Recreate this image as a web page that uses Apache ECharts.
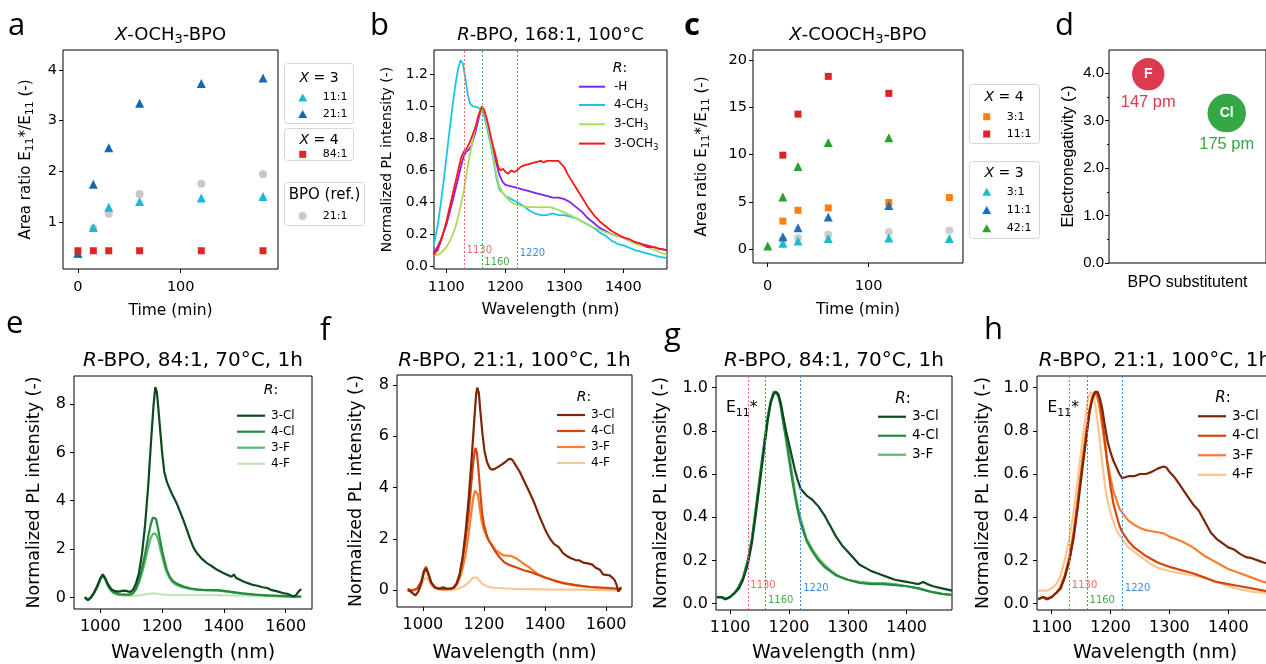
<!DOCTYPE html>
<html><head><meta charset="utf-8">
<script src="https://cdn.jsdelivr.net/npm/echarts@6/dist/echarts.min.js"></script>
<style>html,body{margin:0;padding:0;background:#fff}#c{width:1266px;height:664px}</style>
</head><body><div id="c"></div>
<script>
// ---------------- DATA ----------------
// panel a : X-OCH3-BPO, area ratio vs time
const aTime  = [0, 15, 30, 60, 120, 180];
const aX3r11 = [0.38, 0.89, 1.29, 1.40, 1.47, 1.50];
const aX3r21 = [0.38, 1.74, 2.46, 3.34, 3.73, 3.84];
const aX4r84 = [0.43, 0.43, 0.43, 0.43, 0.43, 0.43];
const aRef21 = [null, 0.87, 1.16, 1.55, 1.75, 1.94];
// panel c : X-COOCH3-BPO
const cTime  = [0, 15, 30, 60, 120, 180];
const cX4r3  = [null, 2.95, 4.1, 4.35, 4.92, 5.45];
const cX4r11 = [null, 9.95, 14.3, 18.3, 16.5, null];
const cX3r3  = [null, 0.6, 0.85, 1.1, 1.15, 1.1];
const cX3r11 = [null, 1.3, 2.25, 3.4, 4.6, null];
const cX3r42 = [0.3, 5.5, 8.75, 11.3, 11.8, null];
const cRef   = [null, 1.0, 1.15, 1.5, 1.8, 1.95];
// panel d : substituent electronegativity / radius
const dSub = ['F', 'Cl'];
const dEN  = [3.98, 3.16];
const dRad = [147, 175];
const dPos = [1, 3];
// vertical reference lines (nm)
const vlineNm = [1130, 1160, 1220];
// panel b : R-BPO 168:1 100C
const bH = [[1078,0.08],[1085,0.12],[1090,0.16],[1100,0.26],[1110,0.4],[1120,0.55],[1127,0.66],[1132,0.71],[1138,0.73],[1143,0.76],[1150,0.85],[1155,0.93],[1160,0.99],[1163,0.97],[1168,0.9],[1175,0.8],[1180,0.72],[1185,0.64],[1190,0.57],[1195,0.53],[1200,0.51],[1210,0.5],[1220,0.49],[1230,0.48],[1240,0.47],[1250,0.46],[1260,0.45],[1270,0.44],[1280,0.43],[1290,0.43],[1300,0.42],[1310,0.4],[1320,0.37],[1330,0.34],[1340,0.3],[1350,0.27],[1360,0.24],[1370,0.22],[1380,0.2],[1390,0.19],[1400,0.18],[1410,0.16],[1420,0.15],[1430,0.14],[1440,0.13],[1450,0.12],[1460,0.11],[1474,0.1]];
const b4CH3 = [[1078,0.12],[1085,0.25],[1090,0.38],[1095,0.52],[1100,0.68],[1105,0.84],[1110,0.99],[1115,1.13],[1120,1.24],[1124,1.29],[1128,1.27],[1132,1.18],[1136,1.08],[1140,1.02],[1145,1.0],[1150,1.0],[1155,0.99],[1160,0.98],[1165,0.93],[1170,0.85],[1175,0.76],[1180,0.66],[1185,0.55],[1190,0.48],[1195,0.46],[1200,0.44],[1210,0.42],[1220,0.4],[1230,0.38],[1240,0.35],[1250,0.33],[1260,0.32],[1270,0.32],[1280,0.33],[1290,0.32],[1300,0.32],[1310,0.31],[1320,0.3],[1330,0.28],[1340,0.26],[1350,0.24],[1360,0.21],[1370,0.19],[1380,0.16],[1390,0.14],[1400,0.13],[1420,0.1],[1440,0.08],[1460,0.06],[1474,0.05]];
const b3CH3 = [[1078,0.07],[1085,0.07],[1090,0.08],[1095,0.1],[1100,0.12],[1105,0.15],[1110,0.19],[1115,0.24],[1120,0.31],[1125,0.39],[1130,0.48],[1135,0.6],[1140,0.7],[1145,0.8],[1150,0.88],[1155,0.95],[1160,0.99],[1164,0.97],[1168,0.91],[1172,0.84],[1176,0.76],[1180,0.67],[1185,0.57],[1190,0.5],[1195,0.46],[1200,0.44],[1207,0.41],[1215,0.39],[1225,0.38],[1240,0.37],[1260,0.37],[1275,0.37],[1285,0.36],[1297,0.34],[1310,0.32],[1320,0.3],[1331,0.28],[1345,0.25],[1365,0.22],[1380,0.2],[1400,0.18],[1420,0.14],[1440,0.12],[1460,0.09],[1474,0.07]];
const b3OCH3 = [[1078,0.07],[1085,0.1],[1090,0.15],[1095,0.21],[1100,0.28],[1105,0.36],[1110,0.44],[1115,0.52],[1120,0.6],[1125,0.68],[1130,0.72],[1135,0.74],[1140,0.78],[1145,0.83],[1150,0.88],[1155,0.95],[1160,1.0],[1164,0.98],[1168,0.93],[1172,0.87],[1176,0.8],[1180,0.74],[1185,0.67],[1188,0.62],[1192,0.6],[1196,0.61],[1200,0.59],[1205,0.58],[1210,0.6],[1215,0.59],[1220,0.6],[1225,0.62],[1230,0.63],[1240,0.64],[1250,0.65],[1260,0.66],[1265,0.65],[1270,0.66],[1280,0.66],[1290,0.66],[1295,0.64],[1300,0.62],[1305,0.58],[1310,0.55],[1315,0.52],[1320,0.49],[1325,0.46],[1330,0.43],[1340,0.37],[1350,0.32],[1360,0.28],[1370,0.25],[1380,0.22],[1390,0.2],[1400,0.18],[1410,0.17],[1420,0.15],[1430,0.14],[1440,0.12],[1450,0.12],[1460,0.11],[1474,0.1]];
// panel e : R-BPO 84:1 70C 1h
const e3Cl = [[950,0.0],[960,-0.12],[970,0.0],[980,0.2],[990,0.45],[1000,0.78],[1008,0.95],[1015,0.82],[1025,0.55],[1035,0.35],[1045,0.27],[1060,0.24],[1075,0.28],[1085,0.27],[1095,0.22],[1105,0.3],[1115,0.55],[1125,1.0],[1135,1.8],[1145,3.0],[1155,4.6],[1165,6.6],[1172,7.9],[1178,8.7],[1183,8.5],[1188,7.8],[1194,6.9],[1200,6.0],[1207,5.2],[1215,4.8],[1226,4.45],[1237,4.15],[1247,3.9],[1258,3.55],[1269,3.2],[1280,2.8],[1291,2.4],[1302,2.05],[1313,1.83],[1330,1.58],[1345,1.42],[1360,1.3],[1378,1.14],[1395,1.03],[1410,0.94],[1425,0.85],[1432,0.95],[1440,0.8],[1460,0.68],[1475,0.6],[1490,0.53],[1508,0.48],[1525,0.42],[1540,0.39],[1555,0.3],[1573,0.25],[1590,0.18],[1605,0.15],[1618,0.08],[1627,0.04],[1635,0.12],[1642,0.25],[1650,0.35]];
const e4Cl = [[950,0.0],[960,-0.1],[970,0.0],[980,0.2],[990,0.45],[1000,0.78],[1008,0.93],[1015,0.8],[1025,0.5],[1035,0.3],[1045,0.2],[1060,0.13],[1080,0.12],[1095,0.12],[1105,0.18],[1115,0.35],[1125,0.7],[1135,1.2],[1145,1.8],[1155,2.5],[1163,3.0],[1170,3.3],[1175,3.35],[1180,3.25],[1187,2.85],[1194,2.35],[1200,1.95],[1208,1.5],[1215,1.15],[1225,0.85],[1235,0.68],[1250,0.55],[1270,0.45],[1290,0.38],[1310,0.33],[1340,0.3],[1360,0.3],[1380,0.3],[1400,0.27],[1430,0.22],[1460,0.17],[1500,0.12],[1540,0.08],[1580,0.06],[1620,0.04],[1650,0.03]];
const e3F = [[950,0.0],[960,-0.08],[970,0.0],[980,0.18],[990,0.42],[1000,0.75],[1008,0.9],[1015,0.78],[1025,0.48],[1035,0.28],[1045,0.18],[1060,0.12],[1080,0.1],[1095,0.1],[1105,0.15],[1115,0.3],[1125,0.6],[1135,1.0],[1145,1.5],[1155,2.05],[1163,2.45],[1170,2.62],[1177,2.65],[1183,2.55],[1190,2.25],[1197,1.85],[1205,1.45],[1213,1.1],[1222,0.85],[1232,0.65],[1245,0.52],[1265,0.42],[1290,0.35],[1320,0.31],[1350,0.3],[1380,0.28],[1410,0.24],[1440,0.19],[1480,0.13],[1520,0.09],[1560,0.06],[1600,0.04],[1650,0.02]];
const e4F = [[950,0.0],[960,-0.08],[970,0.0],[980,0.18],[990,0.42],[1000,0.75],[1008,0.88],[1015,0.75],[1025,0.45],[1035,0.25],[1050,0.12],[1070,0.07],[1100,0.06],[1130,0.09],[1150,0.13],[1165,0.16],[1175,0.17],[1185,0.15],[1200,0.12],[1230,0.1],[1280,0.09],[1350,0.09],[1420,0.08],[1500,0.06],[1580,0.04],[1650,0.03]];
// panel f : R-BPO 21:1 100C 1h
const f3Cl = [[950,0.0],[960,-0.05],[975,-0.2],[985,-0.05],[995,0.3],[1003,0.7],[1010,0.85],[1017,0.65],[1027,0.3],[1040,0.1],[1055,0.05],[1065,0.12],[1075,0.08],[1090,0.05],[1100,0.1],[1110,0.25],[1120,0.6],[1130,1.3],[1140,2.3],[1150,3.6],[1160,5.2],[1168,6.6],[1174,7.6],[1178,7.9],[1183,7.7],[1188,7.0],[1195,6.1],[1202,5.4],[1210,5.0],[1218,4.78],[1225,4.7],[1233,4.72],[1245,4.8],[1258,4.9],[1270,5.0],[1280,5.1],[1288,5.12],[1295,5.05],[1305,4.85],[1318,4.6],[1330,4.3],[1342,4.0],[1352,3.75],[1365,3.4],[1378,3.0],[1390,2.65],[1405,2.25],[1418,1.98],[1430,1.8],[1445,1.68],[1459,1.45],[1470,1.35],[1485,1.25],[1500,1.18],[1512,1.17],[1525,1.08],[1540,1.05],[1555,1.0],[1566,0.88],[1580,0.8],[1590,0.62],[1600,0.6],[1612,0.58],[1620,0.5],[1628,0.4],[1635,0.2],[1640,-0.05],[1645,0.05],[1650,0.12]];
const f4Cl = [[950,0.05],[965,0.0],[980,0.05],[995,0.35],[1003,0.75],[1010,0.92],[1017,0.7],[1027,0.3],[1040,0.12],[1060,0.05],[1080,0.05],[1100,0.1],[1110,0.25],[1120,0.6],[1130,1.2],[1140,2.0],[1150,3.0],[1158,4.1],[1165,5.0],[1170,5.45],[1173,5.55],[1177,5.35],[1182,4.7],[1188,3.8],[1194,3.0],[1200,2.55],[1208,2.2],[1215,1.95],[1223,1.8],[1235,1.55],[1250,1.3],[1266,1.1],[1280,1.0],[1300,0.92],[1315,0.85],[1330,0.78],[1350,0.72],[1373,0.62],[1400,0.5],[1430,0.38],[1460,0.28],[1500,0.2],[1550,0.13],[1600,0.1],[1640,0.06],[1650,0.05]];
const f3F = [[950,0.02],[965,0.0],[980,0.05],[995,0.33],[1003,0.72],[1010,0.88],[1017,0.68],[1027,0.3],[1040,0.1],[1060,0.05],[1080,0.05],[1100,0.08],[1110,0.2],[1120,0.45],[1130,0.85],[1140,1.4],[1150,2.2],[1158,3.0],[1165,3.6],[1170,3.88],[1175,3.95],[1180,3.75],[1186,3.2],[1192,2.7],[1200,2.35],[1210,2.05],[1223,1.82],[1240,1.55],[1255,1.42],[1266,1.36],[1276,1.35],[1290,1.33],[1305,1.25],[1320,1.13],[1335,1.0],[1350,0.88],[1373,0.66],[1400,0.5],[1430,0.38],[1460,0.28],[1500,0.19],[1550,0.12],[1600,0.08],[1650,0.05]];
const f4F = [[950,0.02],[970,0.0],[990,0.1],[1003,0.4],[1010,0.5],[1017,0.4],[1030,0.15],[1050,0.05],[1080,0.02],[1100,0.03],[1120,0.08],[1140,0.2],[1155,0.38],[1165,0.5],[1170,0.53],[1177,0.5],[1185,0.38],[1195,0.25],[1210,0.15],[1230,0.1],[1260,0.08],[1300,0.06],[1400,0.04],[1500,0.03],[1600,0.01],[1650,0.0]];
// panel g : R-BPO 84:1 70C 1h (normalized)
const g3Cl = [[1077,0.03],[1085,0.03],[1092,0.02],[1100,0.03],[1108,0.05],[1115,0.07],[1122,0.11],[1130,0.18],[1137,0.28],[1144,0.42],[1151,0.57],[1158,0.72],[1164,0.85],[1169,0.93],[1174,0.97],[1178,0.98],[1182,0.97],[1186,0.93],[1190,0.87],[1195,0.8],[1200,0.74],[1205,0.68],[1210,0.62],[1215,0.57],[1220,0.53],[1230,0.5],[1240,0.48],[1250,0.45],[1260,0.41],[1270,0.36],[1280,0.31],[1290,0.27],[1300,0.24],[1310,0.21],[1320,0.18],[1330,0.165],[1340,0.15],[1350,0.14],[1360,0.13],[1370,0.12],[1380,0.11],[1390,0.105],[1400,0.1],[1410,0.095],[1420,0.09],[1428,0.1],[1435,0.09],[1445,0.08],[1460,0.07],[1477,0.06]];
const g4Cl = [[1077,0.03],[1085,0.03],[1092,0.02],[1100,0.03],[1108,0.05],[1115,0.08],[1122,0.12],[1130,0.2],[1137,0.3],[1144,0.45],[1151,0.6],[1158,0.75],[1164,0.87],[1169,0.94],[1174,0.98],[1178,0.98],[1182,0.96],[1186,0.91],[1190,0.84],[1195,0.76],[1200,0.67],[1205,0.58],[1210,0.5],[1215,0.43],[1220,0.37],[1230,0.29],[1240,0.24],[1250,0.2],[1260,0.17],[1270,0.15],[1280,0.13],[1290,0.12],[1300,0.11],[1320,0.095],[1340,0.09],[1360,0.09],[1380,0.085],[1400,0.08],[1420,0.07],[1440,0.055],[1460,0.045],[1477,0.04]];
const g3F = [[1077,0.03],[1085,0.03],[1092,0.025],[1100,0.03],[1108,0.05],[1115,0.08],[1122,0.12],[1130,0.2],[1137,0.3],[1144,0.44],[1151,0.59],[1158,0.74],[1164,0.86],[1169,0.93],[1174,0.97],[1178,0.98],[1182,0.96],[1186,0.92],[1190,0.86],[1195,0.78],[1200,0.7],[1205,0.61],[1210,0.52],[1215,0.45],[1220,0.39],[1230,0.3],[1240,0.25],[1250,0.21],[1260,0.18],[1270,0.155],[1280,0.135],[1290,0.12],[1300,0.11],[1320,0.1],[1340,0.095],[1360,0.095],[1380,0.09],[1400,0.08],[1420,0.07],[1440,0.055],[1460,0.045],[1477,0.04]];
// panel h : R-BPO 21:1 100C 1h (normalized)
const h3Cl = [[1077,0.02],[1085,0.03],[1092,0.02],[1100,0.03],[1108,0.05],[1115,0.07],[1122,0.12],[1130,0.2],[1137,0.3],[1144,0.44],[1151,0.6],[1158,0.75],[1164,0.88],[1169,0.95],[1174,0.98],[1178,0.98],[1182,0.95],[1186,0.9],[1190,0.83],[1195,0.75],[1200,0.7],[1205,0.66],[1210,0.63],[1215,0.6],[1220,0.58],[1225,0.585],[1230,0.59],[1240,0.59],[1250,0.6],[1260,0.6],[1270,0.61],[1280,0.625],[1290,0.635],[1295,0.63],[1300,0.61],[1310,0.58],[1320,0.54],[1330,0.5],[1340,0.46],[1350,0.43],[1360,0.38],[1370,0.33],[1380,0.3],[1390,0.28],[1400,0.26],[1410,0.25],[1420,0.23],[1430,0.215],[1440,0.21],[1450,0.2],[1460,0.19],[1477,0.18]];
const h4Cl = [[1077,0.02],[1085,0.03],[1092,0.02],[1100,0.03],[1108,0.05],[1115,0.07],[1122,0.12],[1130,0.2],[1137,0.31],[1144,0.46],[1151,0.62],[1158,0.77],[1164,0.89],[1169,0.95],[1174,0.98],[1178,0.97],[1182,0.93],[1186,0.85],[1190,0.76],[1195,0.64],[1200,0.54],[1205,0.46],[1210,0.41],[1215,0.36],[1220,0.33],[1230,0.29],[1240,0.26],[1250,0.24],[1260,0.22],[1270,0.205],[1280,0.19],[1290,0.18],[1300,0.17],[1320,0.155],[1340,0.14],[1360,0.12],[1380,0.1],[1400,0.09],[1420,0.08],[1440,0.07],[1460,0.06],[1477,0.055]];
const h3F = [[1077,0.02],[1085,0.03],[1092,0.025],[1100,0.03],[1108,0.05],[1115,0.08],[1122,0.13],[1130,0.22],[1137,0.33],[1144,0.48],[1151,0.64],[1158,0.79],[1164,0.9],[1169,0.96],[1173,0.98],[1177,0.96],[1181,0.91],[1186,0.82],[1190,0.74],[1195,0.65],[1200,0.58],[1205,0.52],[1210,0.48],[1215,0.44],[1220,0.42],[1230,0.385],[1240,0.365],[1250,0.35],[1260,0.34],[1270,0.335],[1280,0.33],[1290,0.325],[1300,0.31],[1320,0.29],[1340,0.26],[1360,0.22],[1380,0.19],[1400,0.16],[1420,0.14],[1440,0.12],[1460,0.1],[1477,0.09]];
const h4F = [[1077,0.06],[1085,0.06],[1092,0.06],[1100,0.07],[1108,0.09],[1115,0.13],[1122,0.2],[1130,0.3],[1137,0.42],[1144,0.57],[1151,0.73],[1157,0.86],[1162,0.95],[1166,0.98],[1170,0.97],[1174,0.92],[1178,0.84],[1183,0.72],[1188,0.6],[1193,0.5],[1200,0.42],[1207,0.36],[1214,0.32],[1220,0.3],[1230,0.26],[1240,0.24],[1250,0.22],[1260,0.2],[1270,0.18],[1280,0.165],[1300,0.15],[1320,0.14],[1340,0.13],[1360,0.12],[1380,0.1],[1400,0.08],[1420,0.065],[1440,0.055],[1460,0.05],[1477,0.045]];
// tick labels
const ticksTime = [0, 100];
const ticksA = [1, 2, 3, 4];
const ticksC = [0, 5, 10, 15, 20];
const ticksD = [0, 1, 2, 3, 4];
const ticksDminor = [0.5, 1.5, 2.5, 3.5];
const ticksNorm = [0, 0.2, 0.4, 0.6, 0.8, 1.0];
const ticksNormB = [0, 0.2, 0.4, 0.6, 0.8, 1.0, 1.2];
const ticksWlShort = [1100, 1200, 1300, 1400];
const ticksWlLong = [1000, 1200, 1400, 1600];
const ticksEF = [0, 2, 4, 6, 8];

// ---------------- STYLE / LAYOUT ----------------
const FONT = 'DejaVu Sans', ARIAL = 'Liberation Sans', LETTER = 'Open Sans';
function rich(fs, color, ff) {
  color = color || '#000'; ff = ff || FONT;
  return {
    n: {fontSize: fs, fontFamily: ff, color: color, lineHeight: Math.round(fs * 1.3)},
    i: {fontSize: fs, fontFamily: ff, color: color, fontStyle: 'italic', lineHeight: Math.round(fs * 1.3)},
    b: {fontSize: fs, fontFamily: ff, color: color, fontWeight: 'bold', lineHeight: Math.round(fs * 1.3)},
    s: {fontSize: Math.round(fs * 0.7), fontFamily: ff, color: color, lineHeight: Math.round(fs * 0.7), verticalAlign: 'bottom'}
  };
}
const gridDefs = [
  {left: 63, top: 50, width: 215, height: 219},
  {left: 434, top: 50, width: 233, height: 219},
  {left: 753, top: 50, width: 210, height: 213},
  {left: 1109, top: 50, width: 157, height: 213},
  {left: 74, top: 376, width: 238, height: 233},
  {left: 397, top: 375, width: 235, height: 232},
  {left: 716, top: 376, width: 236, height: 234},
  {left: 1037, top: 376, width: 236, height: 234}
];
const grid = gridDefs.map(g => Object.assign({show: true, borderColor: '#000', borderWidth: 1,
  backgroundColor: 'rgba(0,0,0,0)', containLabel: false, outerBoundsMode: 'none'}, g));

function xAx(gi, min, max, ticks, o) {
  const has = ticks && ticks.length > 0;
  return {
    type: 'value', gridIndex: gi, min: min, max: max, position: 'bottom',
    axisLine: {show: false, onZero: false}, splitLine: {show: false},
    axisTick: has ? {show: true, length: 4, customValues: ticks, lineStyle: {color: '#000', width: 1}} : {show: false},
    axisLabel: has ? {show: true, customValues: ticks, color: '#000', fontFamily: o.ff || FONT, fontSize: o.fs,
      margin: o.margin, formatter: o.fmt || (v => String(v))} : {show: false},
    name: o.name, nameLocation: 'middle', nameGap: o.gap,
    nameTextStyle: {color: '#000', fontFamily: o.ff || FONT, fontSize: o.nfs, rich: o.rich}
  };
}
function yAx(gi, min, max, ticks, o) {
  return {
    type: 'value', gridIndex: gi, min: min, max: max, position: 'left',
    axisLine: {show: false, onZero: false}, splitLine: {show: false},
    axisTick: {show: true, length: o.tl || 4, customValues: ticks, lineStyle: {color: '#000', width: 1}},
    axisLabel: {show: !o.noLabel, customValues: ticks, color: '#000', fontFamily: o.ff || FONT, fontSize: o.fs,
      margin: o.margin, formatter: o.fmt || (v => String(v))},
    name: o.name || '', nameLocation: 'middle', nameGap: o.gap, nameRotate: 90,
    nameTextStyle: {color: '#000', fontFamily: o.ff || FONT, fontSize: o.nfs, rich: o.rich}
  };
}
const f1 = v => v.toFixed(1);
const areaName = '{n|Area ratio E}{s|11}{n|*/E}{s|11}{n| (-)}';

const xAxis = [
  xAx(0, -14.5, 194.6, ticksTime, {fs: 14.5, margin: 11, name: 'Time (min)', gap: 34, nfs: 15.5}),
  xAx(1, 1079, 1474, ticksWlShort, {fs: 14.5, margin: 11, name: 'Wavelength (nm)', gap: 33, nfs: 16}),
  xAx(2, -14.6, 193.5, ticksTime, {fs: 14.5, margin: 16, name: 'Time (min)', gap: 39, nfs: 15.5}),
  xAx(3, 0, 4, [], {name: 'BPO substitutent', gap: 12, nfs: 16, ff: ARIAL}),
  xAx(4, 915, 1685, ticksWlLong, {fs: 16, margin: 10, name: 'Wavelength (nm)', gap: 35, nfs: 19}),
  xAx(5, 915, 1685, ticksWlLong, {fs: 16, margin: 10, name: 'Wavelength (nm)', gap: 37, nfs: 19}),
  xAx(6, 1076, 1477, ticksWlShort, {fs: 16, margin: 10, name: 'Wavelength (nm)', gap: 34, nfs: 19}),
  xAx(7, 1075, 1476, ticksWlShort, {fs: 16, margin: 10, name: 'Wavelength (nm)', gap: 34, nfs: 19})
];
const yAxis = [
  yAx(0, 0.07, 4.39, ticksA, {fs: 14.5, margin: 6, name: areaName, gap: 27, nfs: 15, rich: rich(15)}),
  yAx(1, -0.018, 1.355, ticksNormB, {fs: 14, margin: 6, fmt: f1, name: 'Normalized PL intensity (-)', gap: 40, nfs: 14}),
  yAx(2, -1.49, 21.1, ticksC, {fs: 14.5, margin: 6, name: areaName, gap: 41, nfs: 15, rich: rich(15)}),
  yAx(3, 0, 4.49, ticksD, {fs: 15, margin: 5, fmt: f1, ff: ARIAL, name: 'Electronegativity (-)', gap: 32, nfs: 16.5}),
  yAx(4, -0.48, 9.16, ticksEF, {fs: 16, margin: 8, name: 'Normalized PL intensity (-)', gap: 31, nfs: 17.5}),
  yAx(5, -0.65, 8.39, ticksEF, {fs: 16, margin: 8, name: 'Normalized PL intensity (-)', gap: 32, nfs: 17.5}),
  yAx(6, -0.03, 1.054, ticksNorm, {fs: 16, margin: 8, fmt: f1, name: 'Normalized PL intensity (-)', gap: 46, nfs: 17.5}),
  yAx(7, -0.03, 1.054, ticksNorm, {fs: 16, margin: 8, fmt: f1, name: 'Normalized PL intensity (-)', gap: 45, nfs: 17.5}),
  yAx(3, 0, 4.49, ticksDminor, {noLabel: true, tl: 2})
];

const LABEL = {};
const series = [];
function pairs(xs, ys) { const o = []; xs.forEach((x, i) => { if (ys[i] != null) o.push([x, ys[i]]); }); return o; }
function scat(gi, key, label, xs, ys, sym, size, color) {
  LABEL[key] = label;
  series.push({type: 'scatter', name: key, xAxisIndex: gi, yAxisIndex: gi, data: pairs(xs, ys),
    symbol: sym, symbolSize: size, itemStyle: {color: color, opacity: 1}, z: 3, animation: false});
}
function line(gi, key, label, data, color, width) {
  LABEL[key] = label;
  series.push({type: 'line', name: key, xAxisIndex: gi, yAxisIndex: gi, data: data, showSymbol: false,
    symbol: 'none', lineStyle: {color: color, width: width}, itemStyle: {color: color}, z: 3,
    animation: false, clip: true});
}
const VCOL = ['#f06a6a', '#45aa45', '#3c8fd8'];
function vlines(gi, ys, fs) {
  series.push({type: 'scatter', xAxisIndex: gi, yAxisIndex: gi, symbolSize: 1, silent: true, z: 2,
    itemStyle: {color: 'rgba(0,0,0,0)', opacity: 1}, animation: false,
    data: vlineNm.map((x, i) => ({value: [x, ys[i]], label: {color: VCOL[i]}})),
    label: {show: true, position: 'right', distance: 2, fontSize: fs, fontFamily: FONT,
      formatter: p => String(p.value[0])},
    markLine: {symbol: 'none', silent: true, animation: false, label: {show: false},
      lineStyle: {type: [2, 2], width: 1},
      data: vlineNm.map((x, i) => ({xAxis: x, lineStyle: {color: VCOL[i], type: [2, 2], width: 1}}))}
  });
}
function e11(gi, pos) {
  series.push({type: 'scatter', xAxisIndex: gi, yAxisIndex: gi, symbolSize: 1, silent: true, z: 4,
    itemStyle: {color: 'rgba(0,0,0,0)', opacity: 1}, animation: false, data: [pos],
    label: {show: true, position: 'right', distance: 0, formatter: '{n|E}{s|11}{n|*}', rich: rich(15.5)}});
}

// panel a
scat(0, 'a|ref', '21:1', aTime, aRef21, 'circle', 8, '#c9c9c9');
scat(0, 'a|x3_11', '11:1', aTime, aX3r11, 'triangle', 9, '#1ab9d3');
scat(0, 'a|x3_21', '21:1', aTime, aX3r21, 'triangle', 9, '#1a66ad');
scat(0, 'a|x4_84', '84:1', aTime, aX4r84, 'rect', 7, '#d92727');
// panel b
vlines(1, [0.1, 0.023, 0.08], 10);
line(1, 'b|H', '-H', bH, '#8122ee', 1.8);
line(1, 'b|4CH3', '{n|4-CH}{s|3}', b4CH3, '#1cc5e8', 1.8);
line(1, 'b|3CH3', '{n|3-CH}{s|3}', b3CH3, '#aadc5c', 1.8);
line(1, 'b|3OCH3', '{n|3-OCH}{s|3}', b3OCH3, '#ff1616', 1.8);
// panel c
scat(2, 'c|ref', '', cTime, cRef, 'circle', 8, '#cfcfcf');
scat(2, 'c|x4_3', '3:1', cTime, cX4r3, 'rect', 7, '#ff7f0e');
scat(2, 'c|x4_11', '11:1', cTime, cX4r11, 'rect', 7, '#d62728');
scat(2, 'c|x3_3', '3:1', cTime, cX3r3, 'triangle', 9, '#17becf');
scat(2, 'c|x3_11', '11:1', cTime, cX3r11, 'triangle', 9, '#1f6fb4');
scat(2, 'c|x3_42', '42:1', cTime, cX3r42, 'triangle', 9, '#2ca02c');
// panel d
const DCOL = ['#dc3a4e', '#35a846'];
series.push({type: 'scatter', xAxisIndex: 3, yAxisIndex: 3, z: 3, animation: false,
  data: dSub.map((s, i) => ({value: [dPos[i], dEN[i]], symbolSize: dRad[i] * 0.22, itemStyle: {color: DCOL[i], opacity: 1}, name: s})),
  label: {show: true, position: 'inside', color: '#fff', fontFamily: ARIAL, fontWeight: 'bold', fontSize: 14,
    formatter: p => p.name}});
series.push({type: 'scatter', xAxisIndex: 3, yAxisIndex: 3, z: 3, animation: false, silent: true,
  data: dSub.map((s, i) => ({value: [dPos[i], dEN[i]], symbolSize: dRad[i] * 0.22, label: {color: DCOL[i]}, name: dRad[i] + ' pm'})),
  itemStyle: {color: 'rgba(0,0,0,0)', opacity: 1},
  label: {show: true, position: 'bottom', distance: 4, fontFamily: ARIAL, fontSize: 16.5, formatter: p => p.name}});
// panel e (greens)
const GR = ['#0b4a1f', '#26893f', '#5cb86a', '#bfe5b8'];
line(4, 'e|4F', '4-F', e4F, GR[3], 2.2);
line(4, 'e|3F', '3-F', e3F, GR[2], 2.2);
line(4, 'e|4Cl', '4-Cl', e4Cl, GR[1], 2.2);
line(4, 'e|3Cl', '3-Cl', e3Cl, GR[0], 2.2);
// panel f (oranges)
const OR = ['#7a2608', '#d4470c', '#f77e2c', '#fdc590'];
line(5, 'f|4F', '4-F', f4F, OR[3], 2.2);
line(5, 'f|3F', '3-F', f3F, OR[2], 2.2);
line(5, 'f|4Cl', '4-Cl', f4Cl, OR[1], 2.2);
line(5, 'f|3Cl', '3-Cl', f3Cl, OR[0], 2.2);
// panel g
vlines(6, [0.085, 0.015, 0.07], 10);
e11(6, [1092, 0.905]);
line(6, 'g|3F', '3-F', g3F, GR[2], 2.2);
line(6, 'g|4Cl', '4-Cl', g4Cl, GR[1], 2.2);
line(6, 'g|3Cl', '3-Cl', g3Cl, GR[0], 2.2);
// panel h
vlines(7, [0.085, 0.015, 0.07], 10);
e11(7, [1092, 0.905]);
line(7, 'h|4F', '4-F', h4F, OR[3], 2.2);
line(7, 'h|3F', '3-F', h3F, OR[2], 2.2);
line(7, 'h|4Cl', '4-Cl', h4Cl, OR[1], 2.2);
line(7, 'h|3Cl', '3-Cl', h3Cl, OR[0], 2.2);

// legends
function leg(names, left, top, o) {
  return {data: names.map((n, k) => ({name: n, icon: o.icon ? o.icon[k] : 'rect'})),
    left: left, top: top, orient: 'vertical', padding: 0, itemGap: o.gap, itemWidth: o.iw, itemHeight: o.ih,
    selectedMode: false, z: 20,
    textStyle: {fontSize: o.fs, fontFamily: FONT, color: '#000', lineHeight: o.lh, rich: rich(o.fs),
      padding: [0, 0, 0, o.tp || 0]},
    formatter: n => LABEL[n]};
}
const legend = [
  leg(['a|x3_11', 'a|x3_21'], 298.2, 91.5, {iw: 9, ih: 8, gap: 4.6, fs: 11, lh: 12, tp: 10.5, icon: ['triangle', 'triangle']}),
  leg(['a|x4_84'], 299.2, 148.3, {iw: 7, ih: 7, gap: 4, fs: 11, lh: 12, tp: 11.5, icon: ['rect']}),
  leg(['a|ref'], 298.7, 210, {iw: 8, ih: 8, gap: 4, fs: 11, lh: 12, tp: 11, icon: ['circle']}),
  leg(['c|x4_3', 'c|x4_11'], 983.2, 110.7, {iw: 7, ih: 7, gap: 5.3, fs: 11, lh: 12, tp: 11.5, icon: ['rect', 'rect']}),
  leg(['c|x3_3', 'c|x3_11', 'c|x3_42'], 982.2, 185.7, {iw: 9, ih: 8, gap: 6.3, fs: 11, lh: 12, tp: 10.5, icon: ['triangle', 'triangle', 'triangle']}),
  leg(['b|H', 'b|4CH3', 'b|3CH3', 'b|3OCH3'], 579, 79.7, {iw: 26, ih: 2, gap: 3.3, fs: 12, lh: 14, tp: 4}),
  leg(['e|3Cl', 'e|4Cl', 'e|3F', 'e|4F'], 237, 408.7, {iw: 28, ih: 2.2, gap: 2, fs: 12, lh: 14, tp: 1}),
  leg(['f|3Cl', 'f|4Cl', 'f|3F', 'f|4F'], 557, 408, {iw: 28, ih: 2.2, gap: 2, fs: 12, lh: 14, tp: 1}),
  leg(['g|3Cl', 'g|4Cl', 'g|3F'], 878, 409, {iw: 28, ih: 2.2, gap: 3.5, fs: 13.5, lh: 15.5, tp: 1}),
  leg(['h|3Cl', 'h|4Cl', 'h|3F', 'h|4F'], 1198, 408.5, {iw: 28, ih: 2.2, gap: 4, fs: 13.5, lh: 15.5, tp: 1})
];

// text graphics (titles, panel letters, legend titles & frames)
function txt(x, y, text, fs, o) {
  o = o || {};
  return {type: 'text', x: x, y: y, z: 100, silent: true,
    style: {text: text, align: o.align || 'center', verticalAlign: o.va || 'middle',
      rich: rich(fs, o.color, o.ff), fontSize: fs, fontFamily: o.ff || FONT, fill: o.color || '#000'}};
}
function box(x, y, w, h) {
  return {type: 'rect', x: x, y: y, z: -10, silent: true, shape: {width: w, height: h, r: 3},
    style: {fill: '#fff', stroke: '#d6d6d6', lineWidth: 1}};
}
const graphic = {elements: [
  box(284.5, 63.5, 69, 60), box(284.5, 128.5, 69, 32), box(284.5, 182.5, 80, 43),
  box(969.5, 84.5, 70, 59), box(969.5, 161.5, 70, 77),
  txt(319, 78, '{i|X}{n| = 3}', 14), txt(319, 140, '{i|X}{n| = 4}', 14), txt(324.5, 195, '{n|BPO (ref.)}', 15),
  txt(1004, 97, '{i|X}{n| = 4}', 14), txt(1004, 173.5, '{i|X}{n| = 3}', 14),
  txt(620, 68, '{i|R}{n|:}', 14), txt(271, 390, '{i|R}{n|:}', 14), txt(584, 397, '{i|R}{n|:}', 14),
  txt(903, 399, '{i|R}{n|:}', 15), txt(1223, 398, '{i|R}{n|:}', 15),
  txt(170.5, 35, '{i|X}{n|-OCH}{s|3}{n|-BPO}', 18),
  txt(550.5, 35, '{i|R}{n|-BPO, 168:1, 100°C}', 18),
  txt(858, 35, '{i|X}{n|-COOCH}{s|3}{n|-BPO}', 18),
  txt(193, 361, '{i|R}{n|-BPO, 84:1, 70°C, 1h}', 20),
  txt(514.5, 361, '{i|R}{n|-BPO, 21:1, 100°C, 1h}', 20),
  txt(834, 361, '{i|R}{n|-BPO, 84:1, 70°C, 1h}', 20),
  txt(1155, 361, '{i|R}{n|-BPO, 21:1, 100°C, 1h}', 20),
  txt(8, 46, '{n|a}', 31, {align: 'left', va: 'bottom', ff: LETTER}),
  txt(370, 46, '{n|b}', 31, {align: 'left', va: 'bottom', ff: LETTER}),
  txt(684, 46, '{b|c}', 31, {align: 'left', va: 'bottom', ff: LETTER}),
  txt(1055, 46, '{n|d}', 31, {align: 'left', va: 'bottom', ff: LETTER}),
  txt(6, 344, '{n|e}', 31, {align: 'left', va: 'bottom', ff: LETTER}),
  txt(320, 351, '{n|f}', 31, {align: 'left', va: 'bottom', ff: LETTER}),
  txt(664, 356, '{n|g}', 31, {align: 'left', va: 'bottom', ff: LETTER}),
  txt(984, 350, '{n|h}', 31, {align: 'left', va: 'bottom', ff: LETTER})
]};

const chart = echarts.init(document.getElementById('c'), null, {renderer: 'canvas', width: 1266, height: 664});
chart.setOption({
  animation: false, backgroundColor: '#fff',
  grid: grid, xAxis: xAxis, yAxis: yAxis, series: series, legend: legend, graphic: graphic
});
</script></body></html>
